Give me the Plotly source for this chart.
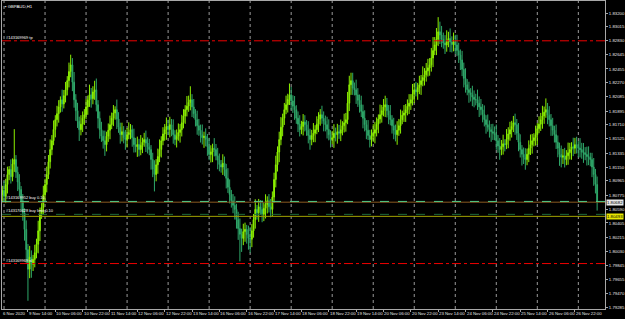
import plotly.graph_objects as go

SYMBOL = "GBPAUD,H1"
FIRST_OPEN = 1.80720

CLOSE = [
    1.80785, 1.80840, 1.80760, 1.80918, 1.81050, 1.81117, 1.81020, 1.81190, 1.81249, 1.81080,
    1.80950, 1.80851, 1.80700, 1.80540, 1.80320, 1.80050, 1.79790, 1.79950, 1.79856, 1.79920,
    1.80010, 1.80121, 1.80300, 1.80520, 1.80610, 1.80780, 1.80918, 1.81050, 1.81220, 1.81382,
    1.81500, 1.81650, 1.81780, 1.81860, 1.81950, 1.82045, 1.81990, 1.82100, 1.82178, 1.82300,
    1.82420, 1.82510, 1.82280, 1.82045, 1.81900, 1.81760, 1.81647, 1.81720, 1.81800, 1.81846,
    1.81950, 1.82040, 1.82112, 1.82060, 1.82150, 1.82178, 1.81980, 1.81800, 1.81647, 1.81560,
    1.81500, 1.81448, 1.81560, 1.81640, 1.81714, 1.81800, 1.81870, 1.81913, 1.81790, 1.81680,
    1.81581, 1.81620, 1.81540, 1.81515, 1.81580, 1.81610, 1.81647, 1.81540, 1.81448, 1.81420,
    1.81450, 1.81382, 1.81440, 1.81480, 1.81515, 1.81470, 1.81420, 1.81382, 1.81250, 1.81120,
    1.81050, 1.81180, 1.81290, 1.81382, 1.81500, 1.81590, 1.81647, 1.81690, 1.81650, 1.81714,
    1.81650, 1.81580, 1.81515, 1.81560, 1.81610, 1.81647, 1.81740, 1.81830, 1.81913, 1.81960,
    1.82010, 1.82045, 1.81950, 1.81860, 1.81780, 1.81700, 1.81640, 1.81581, 1.81540, 1.81560,
    1.81515, 1.81420, 1.81316, 1.81350, 1.81400, 1.81382, 1.81300, 1.81240, 1.81183, 1.81150,
    1.81200, 1.81117, 1.81000, 1.80880, 1.80785, 1.80700, 1.80640, 1.80586, 1.80450, 1.80330,
    1.80254, 1.80200, 1.80290, 1.80320, 1.80250, 1.80200, 1.80188, 1.80300, 1.80450, 1.80586,
    1.80540, 1.80620, 1.80586, 1.80520, 1.80600, 1.80652, 1.80700, 1.80620, 1.80586, 1.80750,
    1.80984, 1.81180, 1.81350, 1.81515, 1.81680, 1.81800, 1.81913, 1.81980, 1.82050, 1.82112,
    1.82030, 1.81960, 1.81913, 1.81800, 1.81720, 1.81647, 1.81690, 1.81750, 1.81714, 1.81640,
    1.81570, 1.81515, 1.81570, 1.81600, 1.81647, 1.81720, 1.81790, 1.81846, 1.81800, 1.81760,
    1.81714, 1.81650, 1.81580, 1.81515, 1.81540, 1.81600, 1.81581, 1.81620, 1.81600, 1.81647,
    1.81700, 1.81740, 1.81780, 1.82000, 1.82245, 1.82300, 1.82200, 1.82178, 1.82110, 1.82040,
    1.81979, 1.81890, 1.81800, 1.81714, 1.81640, 1.81570, 1.81515, 1.81560, 1.81600, 1.81647,
    1.81720, 1.81790, 1.81846, 1.81900, 1.81950, 1.81979, 1.81900, 1.81840, 1.81780, 1.81700,
    1.81640, 1.81581, 1.81640, 1.81700, 1.81780, 1.81840, 1.81870, 1.81913, 1.81960, 1.82000,
    1.82045, 1.82120, 1.82178, 1.82150, 1.82210, 1.82245, 1.82300, 1.82340, 1.82377, 1.82430,
    1.82470, 1.82510, 1.82600, 1.82700, 1.82775, 1.82850, 1.82950, 1.82908, 1.82850, 1.82800,
    1.82775, 1.82820, 1.82860, 1.82815, 1.82780, 1.82820, 1.82775, 1.82700, 1.82640, 1.82576,
    1.82450, 1.82330, 1.82245, 1.82180, 1.82140, 1.82112, 1.82080, 1.82050, 1.82045, 1.82000,
    1.81950, 1.81913, 1.81850, 1.81780, 1.81714, 1.81680, 1.81647, 1.81620, 1.81600, 1.81581,
    1.81500, 1.81430, 1.81382, 1.81420, 1.81460, 1.81448, 1.81520, 1.81590, 1.81647, 1.81690,
    1.81740, 1.81714, 1.81600, 1.81480, 1.81382, 1.81320, 1.81280, 1.81249, 1.81320, 1.81400,
    1.81448, 1.81500, 1.81540, 1.81581, 1.81660, 1.81720, 1.81780, 1.81830, 1.81880, 1.81913,
    1.81840, 1.81780, 1.81700, 1.81640, 1.81581, 1.81480, 1.81400, 1.81316, 1.81280, 1.81300,
    1.81249, 1.81300, 1.81340, 1.81382, 1.81420, 1.81400, 1.81448, 1.81420, 1.81400, 1.81382,
    1.81350, 1.81340, 1.81316, 1.81290, 1.81280, 1.81249, 1.81150, 1.81050, 1.80918, 1.80690,
]

UP_WICK = [
    6, 4, 8, 5, 7, 3, 9, 5, 27, 4,
    5, 7, 3, 6, 4, 8, 5, 10, 6, 4,
    7, 5, 9, 6, 4, 8, 5, 7, 6, 9,
    5, 8, 4, 7, 6, 3, 9, 5, 7, 4,
    8, 9, 6, 9, 5, 7, 4, 8, 6, 5,
    7, 4, 9, 6, 5, 8, 10, 4, 6, 7,
    5, 9, 4, 6, 8, 5, 7, 3, 9, 6,
    4, 8, 5, 7, 6, 9, 5, 4, 8, 6,
    7, 5, 9, 4, 6, 8, 5, 7, 4, 6,
    8, 5, 7, 9, 4, 6, 5, 8, 6, 7,
    5, 9, 4, 6, 8, 5, 7, 6, 4, 9,
    6, 12, 5, 7, 4, 8, 6, 5, 9, 4,
    7, 5, 8, 6, 4, 9, 5, 7, 6, 4,
    8, 6, 5, 9, 7, 4, 6, 8, 5, 7,
    9, 5, 7, 6, 4, 8, 10, 6, 5, 9,
    4, 7, 6, 8, 5, 9, 4, 6, 7, 5,
    6, 8, 5, 7, 9, 4, 6, 8, 5, 10,
    7, 5, 9, 4, 6, 8, 5, 7, 6, 4,
    8, 6, 5, 9, 4, 7, 6, 5, 8, 6,
    5, 7, 9, 4, 6, 8, 5, 7, 6, 9,
    4, 8, 6, 10, 8, 7, 7, 5, 9, 6,
    5, 8, 6, 7, 4, 9, 5, 6, 8, 7,
    6, 4, 9, 5, 7, 8, 6, 5, 9, 4,
    7, 5, 8, 6, 9, 4, 7, 5, 6, 8,
    5, 9, 6, 7, 4, 8, 5, 10, 6, 7,
    8, 6, 9, 12, 7, 10, 13, 9, 8, 6,
    7, 10, 6, 9, 5, 8, 6, 9, 7, 5,
    8, 6, 9, 5, 7, 4, 8, 6, 5, 9,
    6, 7, 5, 8, 4, 9, 6, 5, 7, 6,
    9, 5, 7, 6, 8, 4, 9, 6, 7, 5,
    6, 8, 5, 9, 7, 4, 6, 8, 5, 7,
    9, 6, 4, 8, 5, 7, 6, 9, 5, 10,
    6, 8, 5, 7, 4, 9, 6, 5, 8, 6,
    7, 5, 9, 6, 4, 8, 6, 7, 5, 9,
    6, 8, 5, 7, 9, 4, 6, 8, 5, 7,
]

DOWN_WICK = [
    5, 7, 4, 6, 8, 5, 6, 4, 7, 5,
    8, 6, 9, 7, 10, 12, 28, 8, 12, 6,
    7, 5, 8, 9, 4, 6, 5, 7, 4, 6,
    5, 4, 7, 6, 8, 5, 7, 4, 6, 5,
    6, 5, 8, 7, 9, 6, 10, 5, 7, 6,
    4, 7, 6, 8, 5, 7, 6, 9, 8, 5,
    7, 10, 6, 5, 8, 4, 7, 6, 9, 5,
    8, 6, 5, 9, 7, 4, 6, 8, 7, 5,
    9, 6, 5, 7, 4, 8, 6, 5, 9, 7,
    15, 6, 8, 5, 7, 4, 6, 9, 5, 7,
    6, 8, 5, 7, 4, 9, 6, 5, 7, 6,
    5, 7, 9, 4, 6, 8, 5, 7, 6, 9,
    6, 8, 5, 7, 9, 6, 4, 8, 6, 5,
    7, 6, 9, 5, 8, 6, 7, 9, 8, 10,
    24, 12, 6, 9, 8, 10, 12, 7, 6, 8,
    6, 8, 5, 7, 6, 9, 8, 5, 7, 6,
    5, 7, 6, 9, 5, 8, 6, 4, 7, 5,
    8, 6, 9, 5, 7, 6, 4, 8, 6, 5,
    7, 9, 5, 6, 8, 4, 7, 6, 5, 9,
    6, 8, 5, 7, 4, 9, 6, 8, 5, 7,
    5, 6, 8, 4, 7, 9, 6, 5, 8, 6,
    7, 5, 9, 6, 8, 4, 7, 6, 5, 9,
    6, 8, 4, 7, 5, 9, 6, 8, 5, 7,
    8, 6, 9, 5, 7, 4, 6, 8, 5, 7,
    6, 5, 8, 4, 7, 6, 9, 5, 7, 6,
    5, 7, 6, 8, 4, 9, 6, 8, 7, 5,
    8, 6, 5, 9, 7, 6, 8, 5, 7, 9,
    6, 8, 7, 5, 9, 6, 8, 7, 5, 6,
    9, 5, 7, 6, 8, 4, 7, 9, 6, 5,
    8, 6, 9, 5, 7, 6, 4, 8, 6, 7,
    5, 9, 6, 8, 7, 10, 6, 9, 5, 7,
    6, 8, 5, 7, 9, 4, 6, 8, 7, 5,
    8, 6, 9, 5, 7, 6, 8, 10, 9, 6,
    7, 5, 8, 6, 9, 7, 5, 6, 8, 7,
    6, 9, 5, 8, 7, 6, 9, 10, 8, 8,
]
WICK_UNIT = 0.00015  # price per wick unit

X_LABELS = [
    "6 Nov 2020", "9 Nov 14:00", "10 Nov 06:00", "10 Nov 22:00", "11 Nov 14:00",
    "12 Nov 06:00", "12 Nov 22:00", "13 Nov 14:00", "16 Nov 06:00", "16 Nov 22:00",
    "17 Nov 14:00", "18 Nov 06:00", "18 Nov 22:00", "19 Nov 14:00", "20 Nov 06:00",
    "20 Nov 22:00", "23 Nov 14:00", "24 Nov 06:00", "24 Nov 22:00", "25 Nov 14:00",
    "26 Nov 06:00", "26 Nov 22:00",
]
BARS_PER_LABEL = 16
DAY_START_BARS = [2, 26, 50, 74, 98, 122, 146, 170, 194, 218, 242, 266, 290, 314, 338]

Y_TICKS = [1.79285, 1.79470, 1.79655, 1.79845, 1.80030, 1.80215, 1.80405, 1.80590,
           1.80775, 1.80965, 1.81150, 1.81335, 1.81525, 1.81710, 1.81895, 1.82085,
           1.82270, 1.82455, 1.82645, 1.82830, 1.83015, 1.83200]

TP_PRICE = 1.82830
SL_PRICE = 1.79865
BUY_PRICE = 1.80692
BID_PRICE = 1.80682
BUY_LIMIT_PRICE = 1.80520
HLINE_PRICE = 1.80493

TP_LABEL = "#143169969 tp"
SL_LABEL = "#143169969 sl"
BUY_LABEL = "#143169952 buy 0.10"
BUY_LIMIT_LABEL = "#143170428 buy limit 0.10"

n = len(CLOSE)
idx = list(range(n))
opens = [FIRST_OPEN] + CLOSE[:-1]
highs = [max(o, c) + u * WICK_UNIT for o, c, u in zip(opens, CLOSE, UP_WICK)]
lows = [min(o, c) - d * WICK_UNIT for o, c, d in zip(opens, CLOSE, DOWN_WICK)]

fig = go.Figure()
fig.add_trace(go.Candlestick(
    x=idx, open=opens, high=highs, low=lows, close=CLOSE,
    increasing=dict(line=dict(color="#8CF000", width=1), fillcolor="#8CF000"),
    decreasing=dict(line=dict(color="#2FA86A", width=1), fillcolor="#2FA86A"),
    whiskerwidth=0, hoverinfo="skip", showlegend=False,
))

X0, X1 = 0.82, 353.6
Y0, Y1 = 1.7926, 1.8336

shapes = []
for d in DAY_START_BARS:
    shapes.append(dict(type="line", xref="x", yref="paper", x0=d, x1=d, y0=0, y1=1,
                       line=dict(color="#9A9A9A", width=1, dash="dot"), layer="below"))

def hline(price, color, dash, width=1):
    shapes.append(dict(type="line", xref="paper", yref="y", x0=0, x1=1, y0=price, y1=price,
                       line=dict(color=color, width=width, dash=dash), layer="above"))

hline(TP_PRICE, "#EE0000", "dashdot")
hline(SL_PRICE, "#EE0000", "dashdot")
hline(BID_PRICE, "#8A5A20", "solid")
hline(BUY_PRICE, "#55CC88", "dash")
hline(BUY_LIMIT_PRICE, "#1F6B3A", "dash")
hline(HLINE_PRICE, "#A0A000", "solid")

FONT = "Liberation Sans"
annotations = []
for k, lab in enumerate(X_LABELS):
    xv = k * BARS_PER_LABEL if k > 0 else X0
    annotations.append(dict(x=xv, y=0, xref="x", yref="paper", text=lab, showarrow=False,
                            xanchor="left", yanchor="top", xshift=-1, yshift=0,
                            font=dict(family=FONT, size=4.3, color="#E8E8E8")))

def order_label(price, text):
    annotations.append(dict(x=0, y=price, xref="paper", yref="y", text=text, showarrow=False,
                            xanchor="left", yanchor="bottom", xshift=2, yshift=-1,
                            font=dict(family=FONT, size=4, color="#FFFFFF")))

order_label(TP_PRICE, TP_LABEL)
order_label(SL_PRICE, SL_LABEL)
order_label(BUY_PRICE, BUY_LABEL)
order_label(BUY_LIMIT_PRICE, BUY_LIMIT_LABEL)

annotations.append(dict(x=0, y=1, xref="paper", yref="paper", text="▪ " + SYMBOL, showarrow=False,
                        xanchor="left", yanchor="top", xshift=1, yshift=-1,
                        font=dict(family=FONT, size=4.3, color="#FFFFFF")))

def price_box(price, bg, fg):
    annotations.append(dict(x=1, y=price, xref="paper", yref="y", text=f"{price:.5f}",
                            showarrow=False, xanchor="left", yanchor="middle", xshift=1,
                            bgcolor=bg, borderpad=0,
                            font=dict(family=FONT, size=4.3, color=fg)))

price_box(BID_PRICE, "#E8E8E8", "#000000")
price_box(HLINE_PRICE, "#E8E800", "#000000")

fig.update_layout(
    width=625, height=319,
    margin=dict(l=2, r=20, t=1, b=10),
    paper_bgcolor="#000000", plot_bgcolor="#000000",
    shapes=shapes, annotations=annotations,
    xaxis=dict(range=[X0, X1], rangeslider=dict(visible=False), showgrid=False, zeroline=False,
               showline=True, linecolor="#A8A8A8", linewidth=1, mirror=True,
               tickvals=[k * BARS_PER_LABEL for k in range(len(X_LABELS))],
               ticks="outside", ticklen=2, tickcolor="#A8A8A8", showticklabels=False),
    yaxis=dict(range=[Y0, Y1], side="right", showgrid=False, zeroline=False,
               showline=True, linecolor="#A8A8A8", linewidth=1, mirror=True,
               tickvals=Y_TICKS, ticktext=[f"{v:.5f}" for v in Y_TICKS],
               ticks="outside", ticklen=2, tickcolor="#A8A8A8",
               tickfont=dict(family=FONT, size=4.3, color="#E8E8E8")),
    font=dict(family=FONT),
)

fig.write_html("out.html")
